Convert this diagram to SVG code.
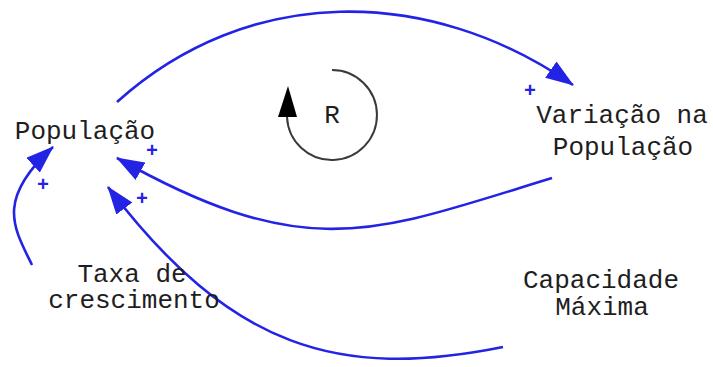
<svg xmlns="http://www.w3.org/2000/svg" width="713" height="367" viewBox="0 0 713 367">
<style>
.lbl{font-family:"Liberation Mono","DejaVu Sans Mono",monospace;font-size:26px;fill:#1e1e1e;text-anchor:middle}
.link{fill:none;stroke:#2323e6;stroke-width:2.6}
.plus{font-family:"Liberation Mono","DejaVu Sans Mono",monospace;font-size:20px;font-weight:bold;fill:#2323e6;text-anchor:middle}
</style>
<defs>
<marker id="ah" markerUnits="userSpaceOnUse" viewBox="0 0 28 20" markerWidth="28" markerHeight="20" refX="27" refY="10" orient="auto">
<path d="M0,0 L28,10 L0,20 z" fill="#2323e6"/>
</marker>
</defs>
<rect width="713" height="367" fill="#ffffff"/>
<g id="connectors">
<path class="link" marker-end="url(#ah)" d="M117,102 C248,-16 429,-15 573,85"/>
<path class="link" marker-end="url(#ah)" d="M552,178 C375,232 309,266 117,158"/>
<path class="link" marker-end="url(#ah)" d="M503,347 C339,380 231,349 108,187"/>
<path class="link" marker-end="url(#ah)" d="M32,265 C14,228 -5,200 53,147"/>
<text class="plus" x="530" y="97">+</text>
<text class="plus" x="152" y="157">+</text>
<text class="plus" x="43" y="191">+</text>
<text class="plus" x="142" y="205">+</text>
</g>
<g id="loop">
<path d="M332,70 A45,45 0 1 1 287,117" fill="none" stroke="#3a3a3a" stroke-width="2"/>
<path d="M288,86 L297,117 L278,117 z" fill="#000"/>
<text class="lbl" x="332" y="123">R</text>
</g>
<g id="populacao">
<text class="lbl" x="85" y="139">População</text>
</g>
<g id="variacao">
<text class="lbl" x="622" y="123">Variação na</text>
<text class="lbl" x="623" y="155">População</text>
</g>
<g id="taxa">
<text class="lbl" x="132" y="282">Taxa de</text>
<text class="lbl" x="134" y="308">crescimento</text>
</g>
<g id="capacidade">
<text class="lbl" x="601" y="288">Capacidade</text>
<text class="lbl" x="602" y="315">Máxima</text>
</g>
</svg>
